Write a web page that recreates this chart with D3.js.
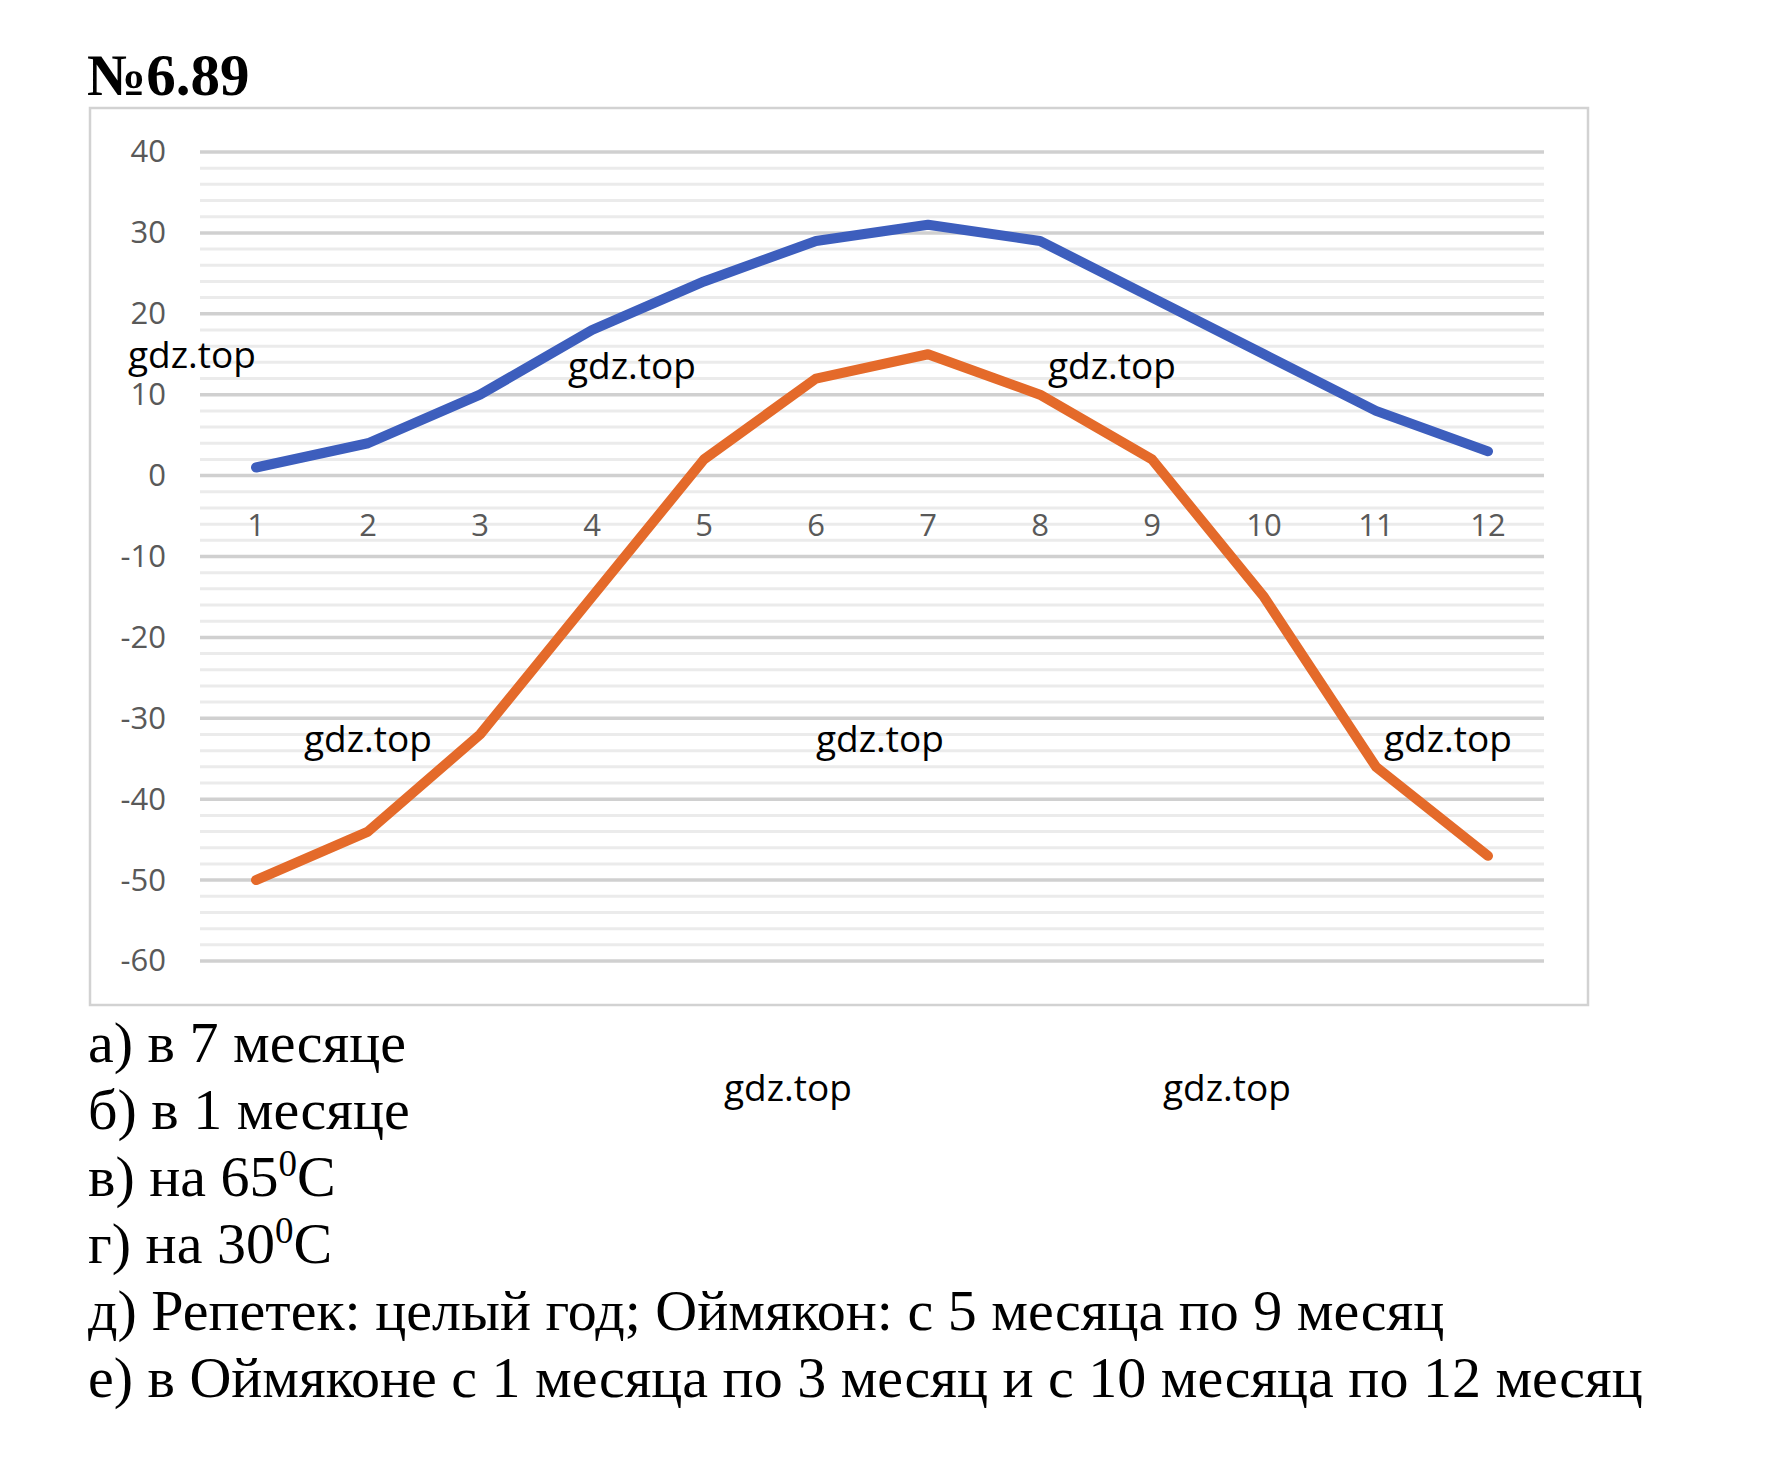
<!DOCTYPE html>
<html>
<head>
<meta charset="utf-8">
<script src="https://cdn.jsdelivr.net/npm/d3@7"></script>
<style>
  html, body { margin: 0; padding: 0; background: #fff; }
  svg { display: block; }
</style>
</head>
<body>
<svg id="chart" width="1792" height="1457"></svg>
<script>
// ---- data ----
const months = [1, 2, 3, 4, 5, 6, 7, 8, 9, 10, 11, 12];
const repetek = [1, 4, 10, 18, 24, 29, 31, 29, 22, 15, 8, 3];
const oymyakon = [-50, -44, -32, -15, 2, 12, 15, 10, 2, -15, -36, -47];
const yTicks = [40, 30, 20, 10, 0, -10, -20, -30, -40, -50, -60];
const title = "№6.89";
const answers = [
  ["а) в 7 месяце"],
  ["б) в 1 месяце"],
  ["в) на 65", "0", "С"],
  ["г) на 30", "0", "С"],
  ["д) Репетек: целый год; Оймякон: с 5 месяца по 9 месяц"],
  ["е) в Оймяконе с 1 месяца по 3 месяц и с 10 месяца по 12 месяц"]
];
const watermarks = [
  [128, 368], [568, 379], [1048, 379],
  [304, 752], [816, 752], [1384, 752],
  [724, 1101], [1163, 1101]
];

// ---- layout ----
const svg = d3.select("#chart");
const plotLeft = 200, plotRight = 1544, plotTop = 152, plotBottom = 961;

const x = d3.scaleBand().domain(months).range([plotLeft, plotRight]);
const xc = d => x(d) + x.bandwidth() / 2;
const y = d3.scaleLinear().domain([-60, 40]).range([plotBottom, plotTop]);

// title
svg.append("text")
  .attr("x", 87).attr("y", 95)
  .attr("font-family", "'Liberation Serif', 'Times New Roman', serif")
  .attr("font-weight", "bold")
  .attr("font-size", 59)
  .attr("fill", "#000")
  .text(title);

// chart frame
svg.append("rect")
  .attr("x", 90).attr("y", 108)
  .attr("width", 1498).attr("height", 897)
  .attr("fill", "#fff")
  .attr("stroke", "#d2d2d2")
  .attr("stroke-width", 2.5);

// minor gridlines (every 2)
const minor = d3.range(-60, 41, 2).filter(v => v % 10 !== 0);
svg.append("g").selectAll("line").data(minor).join("line")
  .attr("x1", plotLeft).attr("x2", plotRight)
  .attr("y1", d => y(d)).attr("y2", d => y(d))
  .attr("stroke", "#ebebeb").attr("stroke-width", 3);

// major gridlines
svg.append("g").selectAll("line").data(yTicks).join("line")
  .attr("x1", plotLeft).attr("x2", plotRight)
  .attr("y1", d => y(d)).attr("y2", d => y(d))
  .attr("stroke", "#d0d0d0").attr("stroke-width", 3.5);

// y axis labels
const yAxis = svg.append("g")
  .attr("transform", `translate(${plotLeft},0)`)
  .call(d3.axisLeft(y).tickValues(yTicks).tickSize(0).tickPadding(34).tickFormat(d => String(d)));
yAxis.select(".domain").remove();
yAxis.selectAll("text")
  .attr("font-family", "'Open Sans', 'Noto Sans', sans-serif")
  .attr("font-size", 31)
  .attr("fill", "#595959");

// x axis labels (at the 0 line)
const xAxis = svg.append("g")
  .attr("transform", `translate(0,${y(0)})`)
  .call(d3.axisBottom(x).tickSize(0).tickPadding(38));
xAxis.select(".domain").remove();
xAxis.selectAll("text")
  .attr("font-family", "'Open Sans', 'Noto Sans', sans-serif")
  .attr("font-size", 31)
  .attr("fill", "#595959");

// lines
const line = d3.line().x((d, i) => xc(months[i])).y(d => y(d));
svg.append("path").datum(repetek)
  .attr("d", line)
  .attr("fill", "none")
  .attr("stroke", "#3d5ebd")
  .attr("stroke-width", 10)
  .attr("stroke-linecap", "round")
  .attr("stroke-linejoin", "round");
svg.append("path").datum(oymyakon)
  .attr("d", line)
  .attr("fill", "none")
  .attr("stroke", "#e46a2a")
  .attr("stroke-width", 10)
  .attr("stroke-linecap", "round")
  .attr("stroke-linejoin", "round");

// watermarks
svg.append("g").selectAll("text").data(watermarks).join("text")
  .attr("x", d => d[0]).attr("y", d => d[1])
  .attr("font-family", "'Open Sans', 'Noto Sans', sans-serif")
  .attr("font-size", 37)
  .attr("fill", "#000")
  .text("gdz.top");

// answers
const ans = svg.append("g")
  .attr("font-family", "'Liberation Serif', 'Times New Roman', serif")
  .attr("font-size", 58)
  .attr("fill", "#000");
answers.forEach((parts, i) => {
  const t = ans.append("text").attr("x", 88).attr("y", 1062 + i * 67);
  if (parts.length === 1) {
    t.text(parts[0]);
  } else {
    t.append("tspan").text(parts[0]);
    t.append("tspan").attr("dy", -20).attr("font-size", 37).text(parts[1]);
    t.append("tspan").attr("dy", 20).text(parts[2]);
  }
});
</script>
</body>
</html>
